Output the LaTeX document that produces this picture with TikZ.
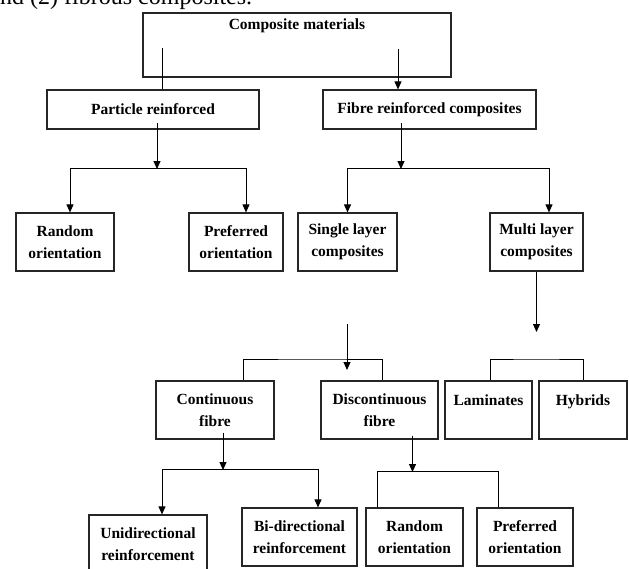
\documentclass[tikz,border=0pt]{standalone}
\usepackage{fontspec}
\setmainfont{Liberation Serif}
\usetikzlibrary{arrows.meta}

\begin{document}
\begin{tikzpicture}[x=1pt,y=-1pt,
  box/.style={draw=black!85, line width=1.2pt, rectangle, inner sep=0pt, align=center, font=\bfseries\fontsize{15.5}{22}\selectfont},
  link/.style={line width=1pt},
  arr/.style={link, -{Triangle[length=8pt,width=7pt]}}]
  \useasboundingbox (0,0) rectangle (629,568);
  \node[anchor=base west, inner sep=0pt, font=\fontsize{24}{28}\selectfont] (intro) at (0,4) {nd (2) fibrous composites.};
  \node[box, minimum width=308, minimum height=64, text depth=42pt] (cm) at (297,45) {Composite materials};
  \node[box, minimum width=212, minimum height=39] (pr) at (153,109.5) {Particle reinforced};
  \node[box, minimum width=213, minimum height=39] (frc) at (429.5,109.5) {Fibre reinforced composites};
  \node[box, minimum width=98, minimum height=58] (ro1) at (65,242) {Random\\orientation};
  \node[box, minimum width=94, minimum height=58] (po1) at (236,242) {Preferred\\orientation};
  \node[box, minimum width=99, minimum height=58] (slc) at (347.5,242) {Single layer\\composites};
  \node[box, minimum width=93, minimum height=58] (mlc) at (536.5,242) {Multi layer\\composites};
  \node[box, minimum width=118, minimum height=58] (cf) at (215,410) {Continuous\\fibre};
  \node[box, minimum width=117, minimum height=58] (df) at (379.5,410) {Discontinuous\\fibre};
  \node[box, minimum width=87, minimum height=58, text depth=20pt] (lam) at (488.5,410) {Laminates};
  \node[box, minimum width=88, minimum height=58, text depth=20pt] (hyb) at (583,410) {Hybrids};
  \node[box, minimum width=118, minimum height=58] (ud) at (148,544) {Unidirectional\\reinforcement};
  \node[box, minimum width=115, minimum height=58] (bd) at (299.5,537) {Bi-directional\\reinforcement};
  \node[box, minimum width=97, minimum height=58] (ro2) at (414.5,537) {Random\\orientation};
  \node[box, minimum width=96, minimum height=58] (po2) at (525,537) {Preferred\\orientation};
  \coordinate (j1) at (157,169);
  \coordinate (j2) at (401,169);
  \coordinate (m1) at (536,332);
  \coordinate (s1) at (347,324);
  \coordinate (j3) at (347,370);
  \coordinate (b3) at (312,359);
  \coordinate (b4) at (536,359);
  \coordinate (j4) at (223,470);
  \coordinate (j5) at (412.5,472);
  \draw[link] ([shift={(-135,3)}]cm.center) -- ([xshift=9pt]pr.north);
  \draw[arr] ([shift={(101,4)}]cm.center) -- ([xshift=-31.5pt]frc.north);
  \draw[arr] ([yshift=7pt]j1 |- pr.south) -- (j1);
  \draw[arr] ([yshift=1pt]j1) -| ([xshift=5pt]ro1.north);
  \draw[arr] ([yshift=1pt]j1) -| ([xshift=10pt]po1.north);
  \draw[arr] ([yshift=7pt]j2 |- frc.south) -- (j2);
  \draw[arr] ([yshift=1pt]j2) -| (slc.north);
  \draw[arr] ([yshift=1pt]j2) -| ([xshift=12.5pt]mlc.north);
  \draw[arr] (mlc.south) -- (mlc.south |- m1);
  \draw[arr] (s1) -- (j3);
  \draw[link] ([xshift=28pt]cf.north) |- (b3) -| ([xshift=2.5pt]df.north);
  \draw[link] ([xshift=1.5pt]lam.north) |- (b4) -| (hyb.north);
  \draw[arr] ([yshift=7pt]j4 |- cf.south) -- (j4);
  \draw[arr] ([yshift=1pt]j4) -| ([xshift=14pt]ud.north);
  \draw[arr] ([yshift=1pt]j4) -| ([xshift=18.5pt]bd.north);
  \draw[arr] ([yshift=4pt]j5 |- df.south) -- (j5);
  \draw[link] ([yshift=1pt]j5) -| ([xshift=-37.5pt]ro2.north);
  \draw[link] ([yshift=1pt]j5) -| ([xshift=-27pt]po2.north);
\end{tikzpicture}
\end{document}
